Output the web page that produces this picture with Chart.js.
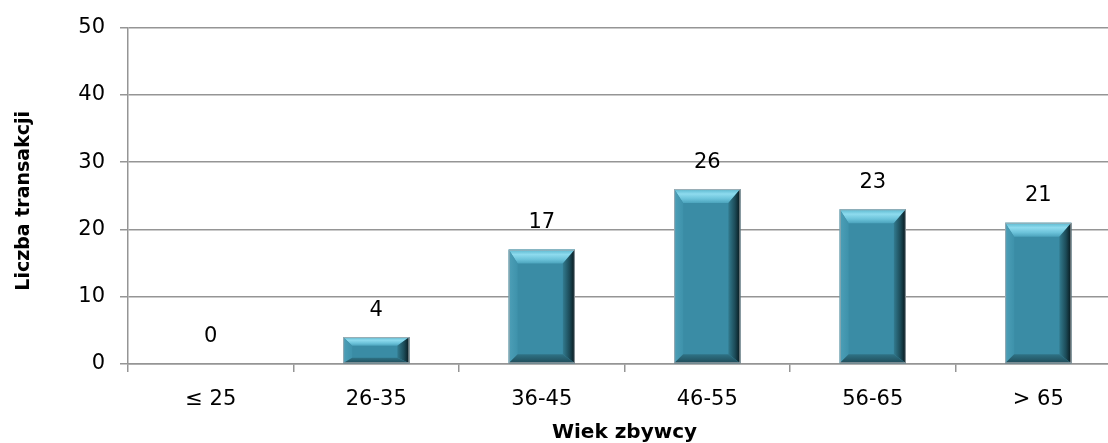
<!DOCTYPE html>
<html lang="pl">
<head>
<meta charset="utf-8">
<title>Liczba transakcji wg wieku zbywcy</title>
<script src="https://cdn.jsdelivr.net/npm/chart.js@4/dist/chart.umd.min.js"></script>
<style>
  html, body { margin: 0; padding: 0; overflow: hidden; background: #ffffff; }
  #wrap { position: relative; width: 1121px; height: 443px; }
</style>
</head>
<body>
<div id="wrap"><canvas id="chart"></canvas></div>
<script>
// Age groups of sellers and the number of transactions in each
const categories = ['≤ 25', '26-35', '36-45', '46-55', '56-65', '> 65'];
const transactions = [0, 4, 17, 26, 23, 21];
const yTicks = [0, 10, 20, 30, 40, 50];
const xTitle = 'Wiek zbywcy';
const yTitle = 'Liczba transakcji';

const FONT = '"DejaVu Sans", "Liberation Sans", sans-serif';
const GRID = '#959595';

function poly(ctx, pts, fill) {
  ctx.beginPath();
  ctx.moveTo(pts[0][0], pts[0][1]);
  for (let i = 1; i < pts.length; i++) ctx.lineTo(pts[i][0], pts[i][1]);
  ctx.closePath();
  ctx.fillStyle = fill;
  ctx.fill();
}

// Bevelled edges on every bar, built from the bar elements' geometry
const bevelPlugin = {
  id: 'bevel',
  afterDatasetsDraw(chart) {
    const ctx = chart.ctx;
    chart.getDatasetMeta(0).data.forEach(bar => {
      const { x, y, base, width } = bar.getProps(['x', 'y', 'base', 'width'], true);
      const l = x - width / 2, r = x + width / 2;
      const t = Math.min(y, base), b = Math.max(y, base);
      const h = b - t;
      if (h < 0.5) return;
      // bevel depth per side, shrunk on short bars
      const k = Math.min(1, h / 42);
      const st = 14 * k, sb = 9 * k, sl = 9, sr = 12;
      ctx.save();
      let g = ctx.createLinearGradient(0, t, 0, t + st);
      g.addColorStop(0, '#58b6cd');
      g.addColorStop(0.35, '#8edbee');
      g.addColorStop(0.7, '#6cc3da');
      g.addColorStop(1, '#4ba3bc');
      poly(ctx, [[l, t], [r, t], [r - sr, t + st], [l + sl, t + st]], g);

      g = ctx.createLinearGradient(l, 0, l + sl, 0);
      g.addColorStop(0, '#4d9fb7');
      g.addColorStop(1, '#3e92ab');
      poly(ctx, [[l, t], [l + sl, t + st], [l + sl, b - sb], [l, b]], g);

      g = ctx.createLinearGradient(r - sr, 0, r, 0);
      g.addColorStop(0, '#327b8f');
      g.addColorStop(0.55, '#1c4b58');
      g.addColorStop(1, '#06151a');
      poly(ctx, [[r, t], [r, b], [r - sr, b - sb], [r - sr, t + st]], g);

      g = ctx.createLinearGradient(0, b - sb, 0, b);
      g.addColorStop(0, '#2f7386');
      g.addColorStop(1, '#1f4b58');
      poly(ctx, [[l, b], [r, b], [r - sr, b - sb], [l + sl, b - sb]], g);

      ctx.strokeStyle = 'rgba(165,172,176,0.9)';
      ctx.lineWidth = 1;
      ctx.strokeRect(l + 0.5, t + 0.5, width - 1, h - 1);
      ctx.restore();
    });
  }
};

// Value labels above the bars
const valueLabels = {
  id: 'valueLabels',
  afterDatasetsDraw(chart) {
    const ctx = chart.ctx;
    const data = chart.data.datasets[0].data;
    ctx.save();
    ctx.font = '21px ' + FONT;
    ctx.fillStyle = '#000000';
    ctx.textAlign = 'center';
    ctx.textBaseline = 'middle';
    chart.getDatasetMeta(0).data.forEach((bar, i) => {
      const { x, y } = bar.getProps(['x', 'y'], true);
      ctx.fillText(String(data[i]), x, y - 27);
    });
    ctx.restore();
  }
};

// Axis titles
const axisTitles = {
  id: 'axisTitles',
  afterDraw(chart) {
    const ctx = chart.ctx;
    const xs = chart.scales.x, ys = chart.scales.y;
    ctx.save();
    ctx.fillStyle = '#000000';
    ctx.textAlign = 'center';
    ctx.textBaseline = 'middle';
    ctx.font = 'bold 20px ' + FONT;
    ctx.fillText(xTitle, (xs.left + xs.right) / 2, xs.top + 69);
    ctx.translate(ys.left + 24, (ys.top + ys.bottom) / 2 + 5);
    ctx.rotate(-Math.PI / 2);
    ctx.font = 'bold 19px ' + FONT;
    ctx.fillText(yTitle, 0, 0);
    ctx.restore();
  }
};

new Chart(document.getElementById('chart'), {
  type: 'bar',
  data: {
    labels: categories,
    datasets: [{
      data: transactions,
      backgroundColor: '#3a8ca5',
      borderWidth: 0,
      categoryPercentage: 1.0,
      barPercentage: 0.4
    }]
  },
  options: {
    responsive: true,
    maintainAspectRatio: false,
    animation: false,
    devicePixelRatio: 1,
    layout: { padding: { top: 24, left: 0, right: 0, bottom: 0 } },
    plugins: {
      legend: { display: false },
      tooltip: { enabled: false }
    },
    scales: {
      x: {
        afterFit(scale) { scale.height = 79; },
        grid: {
          offset: true,
          drawOnChartArea: false,
          drawTicks: true,
          tickLength: 8,
          color: GRID,
          lineWidth: 1.5
        },
        border: { display: true, color: GRID, width: 1.5 },
        ticks: {
          font: { family: FONT, size: 21 },
          color: '#000000',
          padding: 15,
          maxRotation: 0,
          autoSkip: false
        }
      },
      y: {
        min: yTicks[0],
        max: yTicks[yTicks.length - 1],
        afterFit(scale) { scale.width = 128; },
        grid: {
          drawTicks: true,
          tickLength: 8,
          color: GRID,
          lineWidth: 1.5
        },
        border: { display: true, color: GRID, width: 1.5 },
        ticks: {
          stepSize: yTicks[1] - yTicks[0],
          font: { family: FONT, size: 21 },
          color: '#000000',
          padding: 15
        }
      }
    }
  },
  plugins: [bevelPlugin, valueLabels, axisTitles]
});
</script>
</body>
</html>
